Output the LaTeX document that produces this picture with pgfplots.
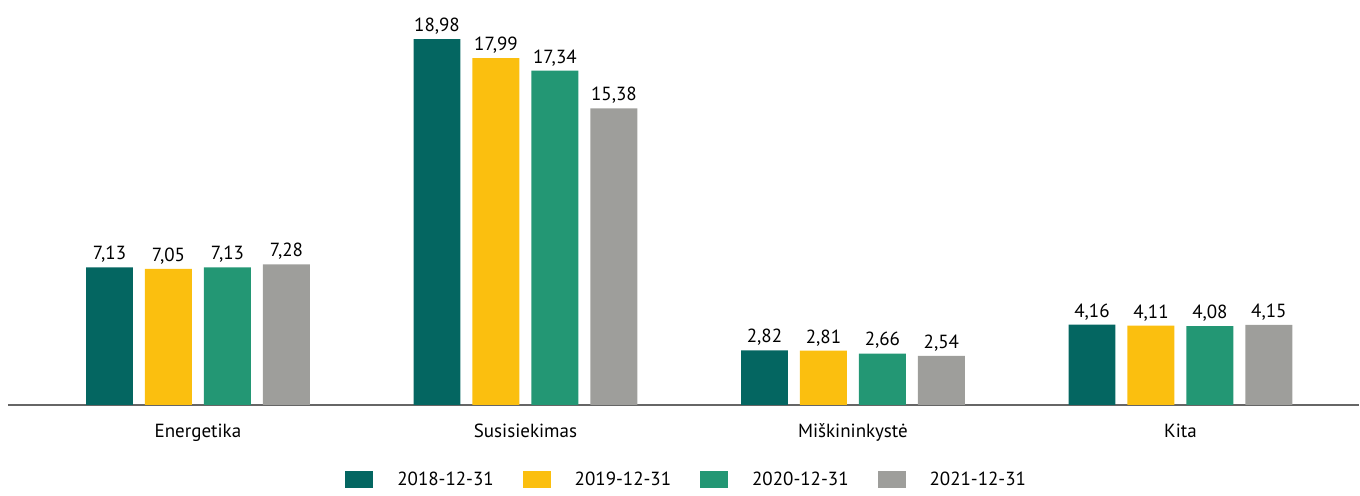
\documentclass[border=0pt]{standalone}
\usepackage{fontspec}
\setmainfont{PT Sans}
\usepackage{pgfplots}
\pgfplotsset{compat=1.18}
\definecolor{cTeal}{RGB}{4,102,97}
\definecolor{cYellow}{RGB}{251,191,15}
\definecolor{cGreen}{RGB}{35,151,116}
\definecolor{cGray}{RGB}{158,158,155}

\begin{document}
\fontsize{9.5}{11}\selectfont
\begin{tikzpicture}
\begin{axis}[
  name=a,
  at={(0,0)}, anchor=south west,
  scale only axis,
  width=676pt, height=192.8pt,
  ybar=6pt, bar width=23.5pt,
  xmin=-0.58, xmax=3.546,
  ymin=0, ymax=20,
  xtick={0,1,2,3},
  xticklabels={Energetika,Susisiekimas,Miškininkystė,Kita},
  xticklabel style={anchor=base, yshift=-16.5pt, font=\fontsize{9.5}{11}\selectfont},
  major tick length=0pt,
  hide y axis,
  axis x line*=bottom,
  x axis line style={draw=black!60, line width=0.75pt, -},
  nodes near coords,
  every node near coord/.append style={font=\fontsize{9.5}{11}\selectfont, black, yshift=-1pt},
  /pgf/number format/.cd, use comma, fixed, fixed zerofill, precision=2, assume math mode=true,
  /pgfplots/.cd,
  legend columns=4,
  legend cell align=left,
  legend style={at={(0.503,-0.1945)}, anchor=center, draw=none,
    font=\fontsize{9.5}{11}\selectfont,
    /tikz/every odd column/.append style={column sep=10pt},
    /tikz/every even column/.append style={column sep=12.5pt}},
  legend image code/.code={\fill[#1] (0pt,-4.25pt) rectangle (14pt,4.25pt);},
]
\addplot[fill=cTeal, draw=none] coordinates {(0,7.13) (1,18.98) (2,2.82) (3,4.16)};
\addplot[fill=cYellow, draw=none] coordinates {(0,7.05) (1,17.99) (2,2.81) (3,4.11)};
\addplot[fill=cGreen, draw=none] coordinates {(0,7.13) (1,17.34) (2,2.66) (3,4.08)};
\addplot[fill=cGray, draw=none] coordinates {(0,7.28) (1,15.38) (2,2.54) (3,4.15)};
\legend{2018-12-31, 2019-12-31, 2020-12-31, 2021-12-31}
\end{axis}
\useasboundingbox ([xshift=-4pt,yshift=-41.5pt]a.south west) rectangle ([yshift=9.7pt]a.north east);
\end{tikzpicture}
\end{document}
